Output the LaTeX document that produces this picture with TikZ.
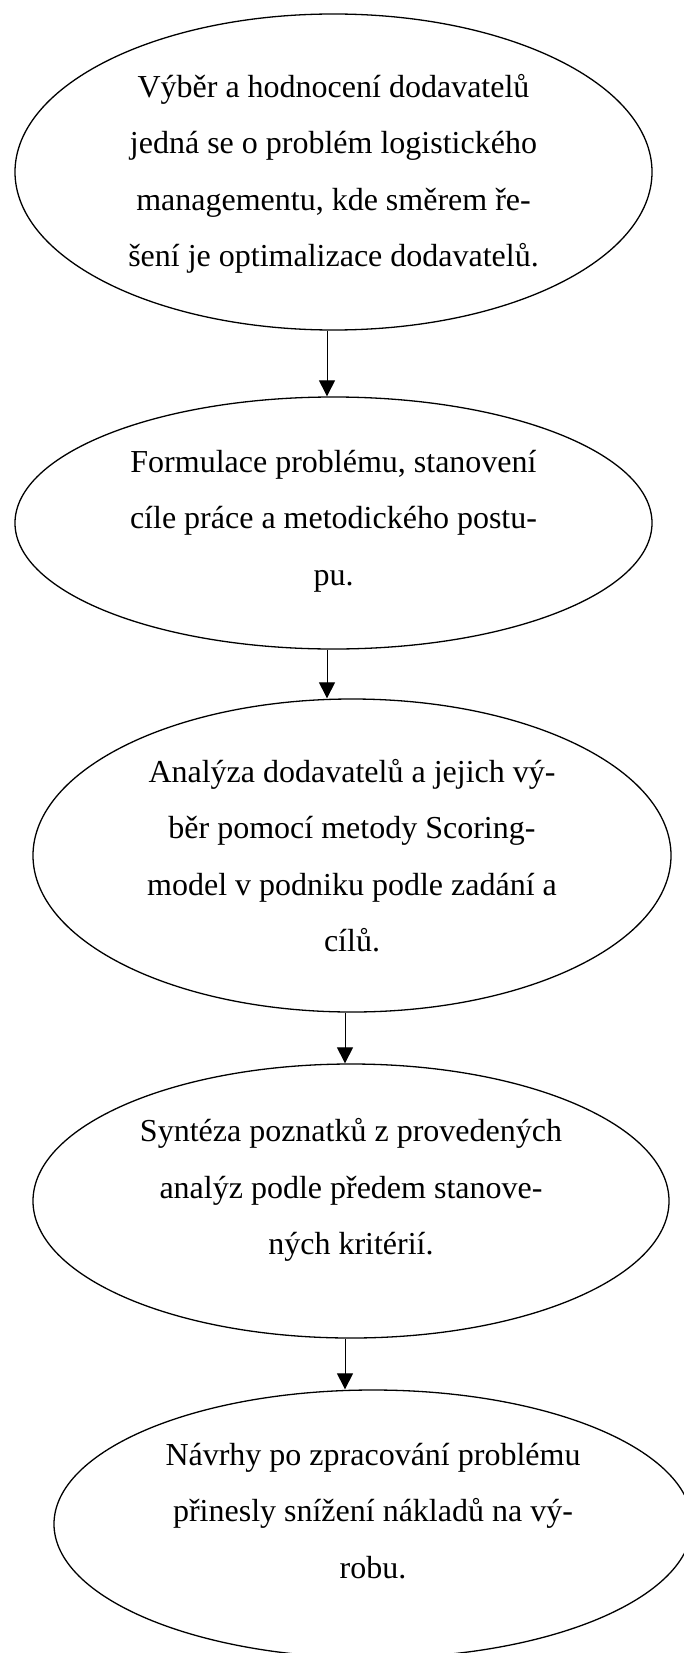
\documentclass[tikz,border=0pt]{standalone}
\usepackage{fontspec}
\setmainfont{Liberation Serif}
\usetikzlibrary{shapes.geometric,arrows.meta}
\begin{document}
\begin{tikzpicture}[x=1pt,y=1pt,
  ell/.style={draw=black,line width=1.3pt,ellipse,inner sep=0pt},
  txt/.style={inner sep=0pt,align=center,font=\fontsize{32}{56.5}\selectfont},
  arr/.style={draw=black,line width=1pt,-{Triangle[width=16pt,length=16pt]}}]
\useasboundingbox[fill=white] (0,0) rectangle (683,-1653);
\node[ell,minimum width=637pt,minimum height=316pt] (e1) at (333.5,-172) {};
\node[ell,minimum width=637pt,minimum height=252pt] (e2) at (333.5,-523) {};
\node[ell,minimum width=638pt,minimum height=313pt] (e3) at (352,-855.5) {};
\node[ell,minimum width=636pt,minimum height=274pt] (e4) at (351,-1201) {};
\node[ell,minimum width=638pt,minimum height=268pt] (e5) at (373,-1524) {};
\node[txt] (t1) at (333.5,-174)
  {Výběr a hodnocení dodavatelů\\jedná se o problém logistického\\managementu, kde směrem ře-\\šení je optimalizace dodavatelů.};
\node[txt] (t2) at (333.5,-521)
  {Formulace problému, stanovení\\cíle práce a metodického postu-\\pu.};
\node[txt] (t3) at (352,-855.5)
  {Analýza dodavatelů a jejich vý-\\běr pomocí metody Scoring-\\model v podniku podle zadání a\\cílů.};
\node[txt] (t4) at (351,-1190)
  {Syntéza poznatků z provedených\\analýz podle předem stanove-\\ných kritérií.};
\node[txt] (t5) at (373,-1511)
  {Návrhy po zpracování problému\\přinesly snížení nákladů na vý-\\robu.};
\coordinate (a1) at (327,0);
\coordinate (a3) at (345,0);
\draw[arr] (e1.south -| a1) -- (e2.north -| a1);
\draw[arr] (e2.south -| a1) -- (e3.north -| a1);
\draw[arr] (e3.south -| a3) -- (e4.north -| a3);
\draw[arr] (e4.south -| a3) -- (e5.north -| a3);
\end{tikzpicture}
\end{document}
